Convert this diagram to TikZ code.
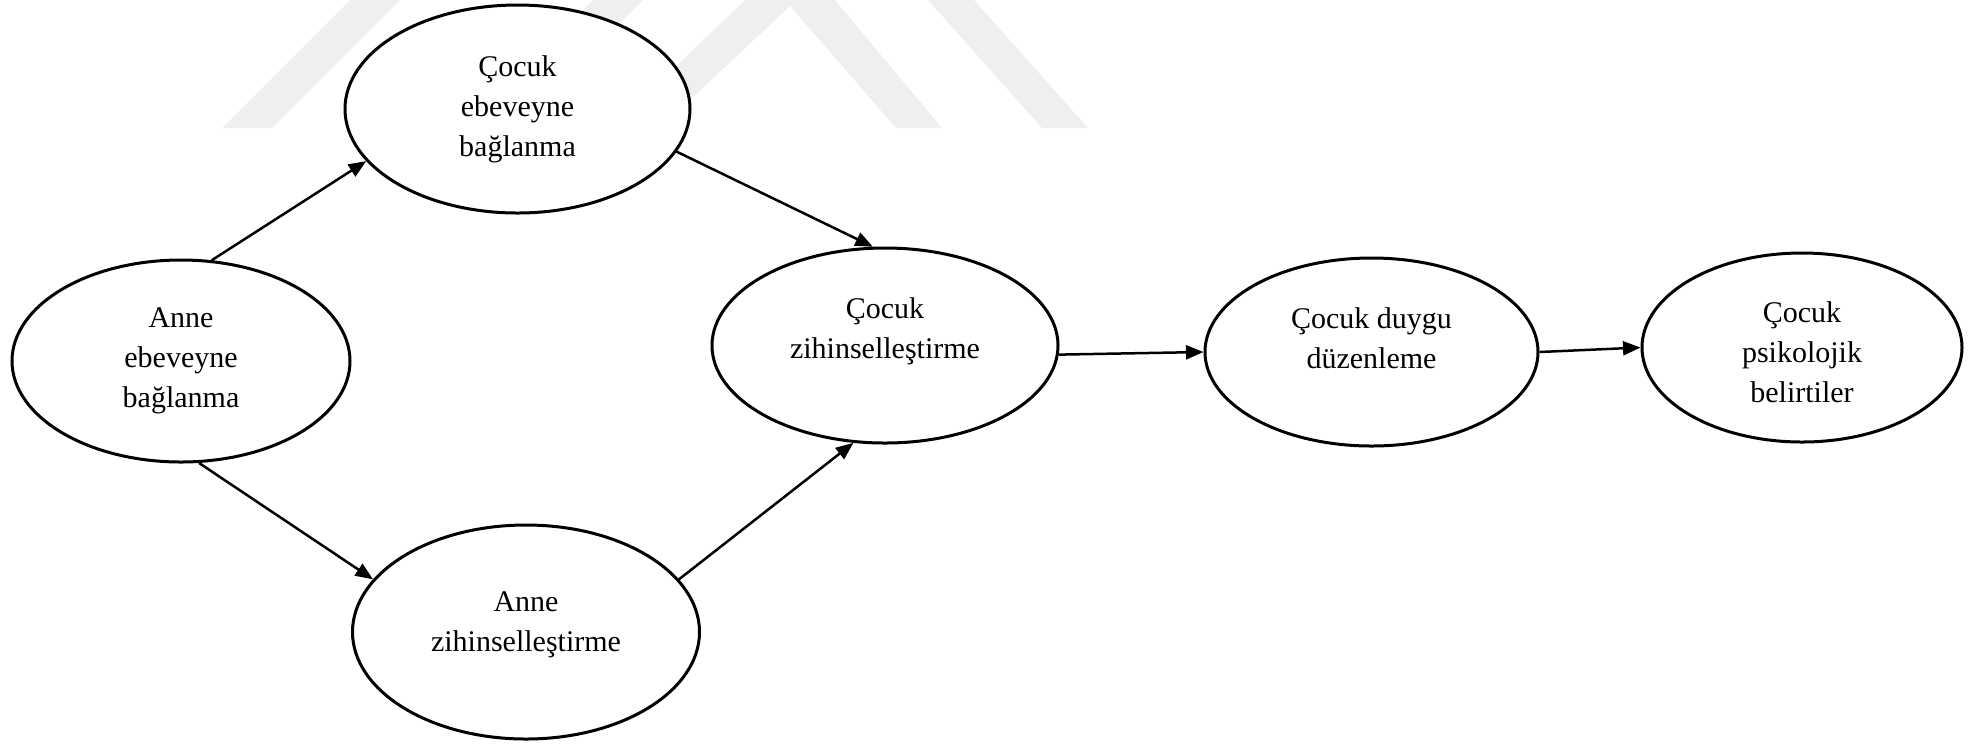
\documentclass[tikz,border=0pt]{standalone}
\usepackage{fontspec}
\setmainfont{Liberation Serif}
\usetikzlibrary{shapes.geometric,arrows.meta}
\definecolor{wmgray}{RGB}{239,239,239}

\tikzset{
  bub/.style={draw, ellipse, fill=white, line width=1.2pt, inner sep=0pt},
  lbl/.style={align=center, font=\fontsize{12}{16}\selectfont},
  link/.style={line width=1pt, -{Triangle[length=7pt,width=5.6pt]}},
  wm/.style={fill=wmgray, draw=none}
}

\begin{document}
\begin{tikzpicture}[x=0.4pt, y=-0.4pt]
\useasboundingbox (0,0) rectangle (1980,749);

% watermark
\fill[wm] (222,128) -- (350,0) -- (400,0) -- (272,128) -- cycle;
\fill[wm] (465,128) -- (593,0) -- (643,0) -- (515,128) -- cycle;
\fill[wm] (612,128) -- (745,0) -- (835,0) -- (942,128) -- (896,128) -- (790,6) -- (660,128) -- cycle;
\fill[wm] (1042,128) -- (928,0) -- (974,0) -- (1088,128) -- cycle;

% nodes
\node[bub, minimum width=135.2pt, minimum height=80.8pt,
  label={[lbl]center:Anne\\ebeveyne\\bağlanma}] (ae) at (181,361) {};
\node[bub, minimum width=138pt, minimum height=83.2pt,
  label={[lbl]center:Çocuk\\ebeveyne\\bağlanma}] (ce) at (517.5,109) {};
\node[bub, minimum width=138.8pt, minimum height=85.6pt,
  label={[lbl, yshift=2.8pt]center:Anne\\zihinselleştirme}] (az) at (526,632) {};
\node[bub, minimum width=138.4pt, minimum height=78pt,
  label={[lbl, yshift=5.6pt]center:Çocuk\\zihinselleştirme}] (cz) at (885,345.5) {};
\node[bub, minimum width=133.2pt, minimum height=75.2pt,
  label={[lbl, yshift=5.6pt]center:Çocuk duygu\\düzenleme}] (cd) at (1371.5,352) {};
\node[bub, minimum width=128pt, minimum height=75.6pt,
  label={[lbl, yshift=-2pt]center:Çocuk\\psikolojik\\belirtiler}] (cp) at (1802,347.5) {};

% links
\draw[link] (ae.73) -- (ce.199);
\draw[link] (ae.280) -- (az.161);
\draw[link] (ce.345) -- (cz.97);
\draw[link] (az.19) -- (cz.252);
\draw[link] (cz.-3) -- (cd.west);
\draw[link] (cd.east) -- (cp.west);

\end{tikzpicture}
\end{document}
